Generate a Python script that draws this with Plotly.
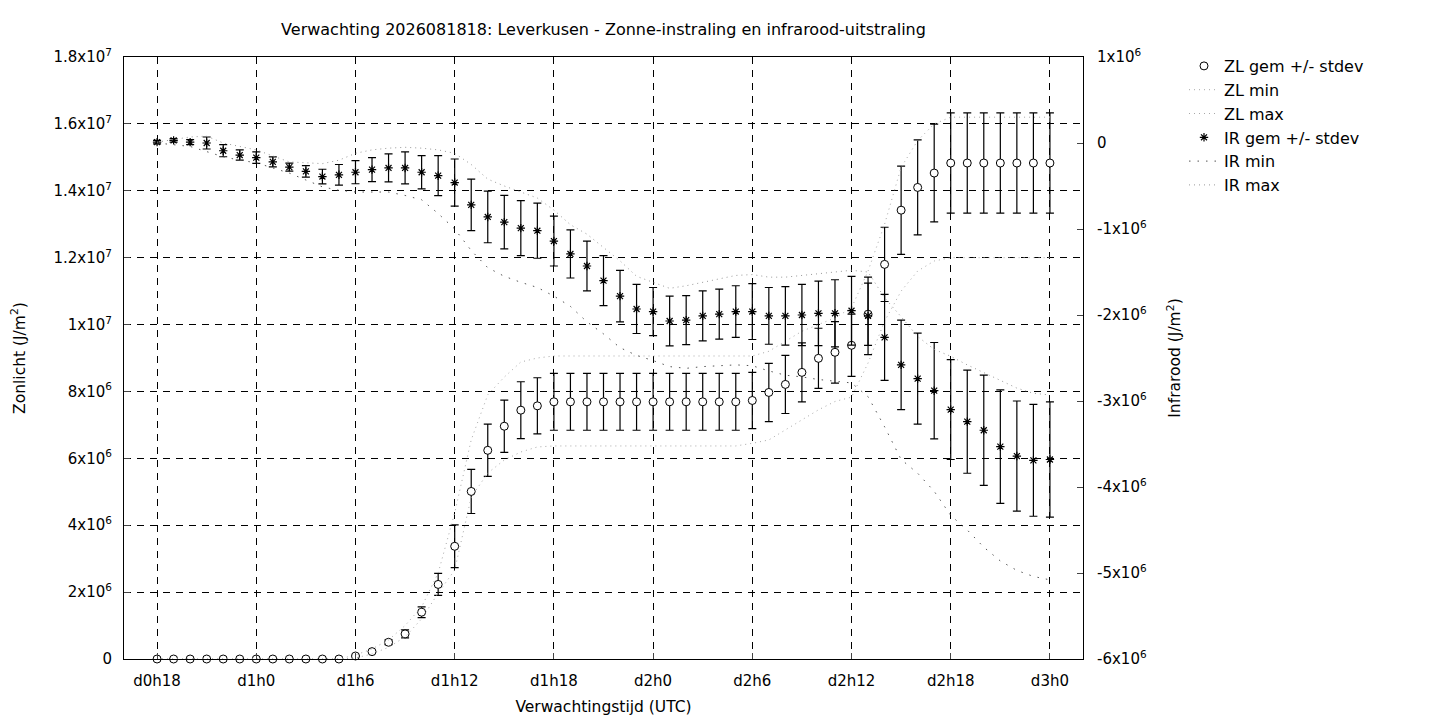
import plotly.graph_objects as go

# uren sinds d0h0 (elk uur een punt)
uren = list(range(18, 73))
labels = ["d%dh%d" % (u // 24, u % 24) for u in uren]
x_ticks = [18, 24, 30, 36, 42, 48, 54, 60, 66, 72]

# zonlicht (1e6 J/m2)
zl_gem = [0, 0, 0, 0, 0, 0, 0, 0, 0, 0, 0, 0,
          0.09, 0.22, 0.5, 0.75, 1.4, 2.23, 3.37, 5.01, 6.24, 6.96, 7.44, 7.57,
          7.69, 7.69, 7.69, 7.69, 7.69, 7.69, 7.69, 7.69, 7.69, 7.69, 7.69, 7.69,
          7.73, 7.97, 8.21, 8.57, 8.99, 9.17, 9.38, 10.31, 11.8, 13.42, 14.1, 14.53,
          14.83, 14.83, 14.83, 14.83, 14.83, 14.83, 14.83]
zl_sd = [0, 0, 0, 0, 0, 0, 0, 0, 0, 0, 0, 0,
         0.02, 0.04, 0.07, 0.12, 0.16, 0.33, 0.64, 0.66, 0.78, 0.78, 0.85, 0.84,
         0.85, 0.85, 0.85, 0.85, 0.85, 0.85, 0.85, 0.85, 0.85, 0.85, 0.85, 0.85,
         0.84, 0.87, 0.87, 0.88, 0.9, 0.92, 0.93, 0.93, 1.11, 1.32, 1.42, 1.46,
         1.5, 1.5, 1.5, 1.5, 1.5, 1.5, 1.5]
zl_min = [0, 0, 0, 0, 0, 0, 0, 0, 0, 0, 0, 0,
          0.03, 0.15, 0.35, 0.66, 1.2, 1.97, 2.66, 4.84, 5.56, 5.95, 6.19, 6.34,
          6.37, 6.37, 6.37, 6.37, 6.37, 6.37, 6.37, 6.37, 6.37, 6.37, 6.37, 6.37,
          6.45, 6.55, 6.85, 7.15, 7.45, 7.7, 7.83, 8.85, 10.1, 11.0, 11.6, 11.9,
          12.0, 12.0, 12.0, 12.0, 12.0, 12.0, 12.0]
zl_max = [0, 0, 0, 0, 0, 0, 0, 0, 0, 0, 0, 0,
          0.12, 0.3, 0.57, 1.0, 1.56, 2.57, 4.37, 6.55, 7.9, 8.43, 8.88, 9.0,
          9.06, 9.06, 9.06, 9.06, 9.06, 9.06, 9.06, 9.06, 9.06, 9.06, 9.06, 9.06,
          9.06, 9.2, 9.5, 9.8, 10.0, 10.2, 10.5, 11.6, 13.0, 14.7, 15.5, 16.0,
          16.2, 16.2, 16.2, 16.2, 16.2, 16.2, 16.2]

# infrarood (1e6 J/m2)
ir_gem = [0.01, 0.03, 0.01, 0.0, -0.09, -0.14, -0.17, -0.22, -0.28, -0.33, -0.39, -0.37,
          -0.34, -0.31, -0.29, -0.29, -0.34, -0.38, -0.46, -0.72, -0.86, -0.92, -0.99, -1.02,
          -1.14, -1.29, -1.43, -1.60, -1.78, -1.93, -1.96, -2.07, -2.06, -2.01, -1.99, -1.96,
          -1.96, -2.01, -2.01, -2.00, -1.98, -1.98, -1.95, -2.01, -2.26, -2.58, -2.74, -2.88,
          -3.10, -3.24, -3.34, -3.53, -3.64, -3.69, -3.68]
ir_sd = [0.02, 0.02, 0.03, 0.07, 0.07, 0.06, 0.066, 0.058, 0.047, 0.066, 0.085, 0.12,
         0.134, 0.14, 0.163, 0.186, 0.194, 0.233, 0.274, 0.30, 0.30, 0.31, 0.32, 0.32,
         0.29, 0.28, 0.29, 0.29, 0.30, 0.285, 0.28, 0.29, 0.285, 0.29, 0.29, 0.30,
         0.325, 0.33, 0.34, 0.355, 0.375, 0.39, 0.40, 0.45, 0.50, 0.52, 0.53, 0.56,
         0.58, 0.60, 0.64, 0.66, 0.64, 0.65, 0.67]
ir_min = [0.0, -0.02, -0.04, -0.10, -0.16, -0.20, -0.23, -0.29, -0.35, -0.43, -0.51, -0.55,
          -0.57, -0.57, -0.57, -0.61, -0.66, -0.82, -1.00, -1.25, -1.45, -1.55, -1.62, -1.68,
          -1.78, -1.90, -2.08, -2.22, -2.38, -2.47, -2.53, -2.60, -2.62, -2.60, -2.59, -2.58,
          -2.59, -2.65, -2.70, -2.72, -2.75, -2.77, -2.79, -2.95, -3.30, -3.68, -3.84, -4.05,
          -4.33, -4.50, -4.70, -4.86, -4.97, -5.04, -5.08]
ir_max = [0.01, 0.04, 0.07, 0.08, 0.0, -0.04, -0.08, -0.15, -0.22, -0.23, -0.24, -0.20,
          -0.12, -0.08, -0.06, -0.05, -0.06, -0.08, -0.12, -0.25, -0.42, -0.50, -0.57, -0.64,
          -0.78, -0.95, -1.06, -1.22, -1.37, -1.55, -1.62, -1.69, -1.66, -1.62, -1.58, -1.54,
          -1.53, -1.56, -1.56, -1.54, -1.52, -1.50, -1.48, -1.50, -1.80, -2.02, -2.25, -2.40,
          -2.48, -2.58, -2.67, -2.76, -2.85, -2.91, -2.93]

y1_ticks = [0, 2e6, 4e6, 6e6, 8e6, 1e7, 1.2e7, 1.4e7, 1.6e7, 1.8e7]
y1_text = ["0", "2x10<sup>6</sup>", "4x10<sup>6</sup>", "6x10<sup>6</sup>", "8x10<sup>6</sup>",
           "1x10<sup>7</sup>", "1.2x10<sup>7</sup>", "1.4x10<sup>7</sup>", "1.6x10<sup>7</sup>",
           "1.8x10<sup>7</sup>"]
y2_ticks = [-6e6, -5e6, -4e6, -3e6, -2e6, -1e6, 0, 1e6]
y2_text = ["-6x10<sup>6</sup>", "-5x10<sup>6</sup>", "-4x10<sup>6</sup>", "-3x10<sup>6</sup>",
           "-2x10<sup>6</sup>", "-1x10<sup>6</sup>", "0", "1x10<sup>6</sup>"]

M = 1e6
font = "DejaVu Sans"

fig = go.Figure()
fig.add_trace(go.Scatter(
    x=uren, y=[v * M for v in zl_gem], mode="markers", name="ZL gem +/- stdev",
    marker=dict(symbol="circle", size=8, color="white", line=dict(color="black", width=1)),
    error_y=dict(type="data", array=[v * M for v in zl_sd], color="black", thickness=1.2, width=4),
    cliponaxis=False))
fig.add_trace(go.Scatter(x=uren, y=[v * M for v in zl_min], mode="lines", name="ZL min",
                         line=dict(color="#a8a8a8", width=1, dash="1px,4px")))
fig.add_trace(go.Scatter(x=uren, y=[v * M for v in zl_max], mode="lines", name="ZL max",
                         line=dict(color="#a8a8a8", width=1, dash="1px,4px")))
fig.add_trace(go.Scatter(
    x=uren, y=[v * M for v in ir_gem], mode="markers", name="IR gem +/- stdev", yaxis="y2",
    marker=dict(symbol="asterisk-open", size=7, color="black", line=dict(color="black", width=1.2)),
    error_y=dict(type="data", array=[v * M for v in ir_sd], color="black", thickness=1.2, width=4)))
fig.add_trace(go.Scatter(x=uren, y=[v * M for v in ir_min], mode="lines", name="IR min", yaxis="y2",
                         line=dict(color="#555555", width=1, dash="1.5px,7px")))
fig.add_trace(go.Scatter(x=uren, y=[v * M for v in ir_max], mode="lines", name="IR max", yaxis="y2",
                         line=dict(color="#999999", width=1, dash="1px,4px")))

# de pagina heeft 8px marge, dus figuur iets kleiner
fig.update_layout(
    width=1432, height=712,
    margin=dict(l=116, r=357, t=49, b=61, autoexpand=False),
    paper_bgcolor="white", plot_bgcolor="white",
    font=dict(family=font, size=15, color="black"),
    title=dict(text="Verwachting 2026081818: Leverkusen - Zonne-instraling en infrarood-uitstraling",
               x=595.5 / 1432, xanchor="center", y=1 - 21 / 712, yanchor="middle",
               font=dict(size=16)),
    xaxis=dict(range=[16, 74], tickvals=x_ticks, ticktext=[labels[uren.index(t)] for t in x_ticks],
               showgrid=True, gridcolor="black", griddash="7px,6px", gridwidth=1,
               showline=True, linecolor="black", mirror=True, ticks="inside", ticklen=6,
               tickfont=dict(size=15), ticklabelstandoff=8, zeroline=False,
               title=dict(text="Verwachtingstijd (UTC)", standoff=12, font=dict(size=15.5))),
    yaxis=dict(range=[0, 1.8e7], tickvals=y1_ticks, ticktext=y1_text,
               showgrid=True, gridcolor="black", griddash="7px,6px", gridwidth=1,
               showline=True, linecolor="black", mirror=True, ticks="inside", ticklen=6,
               tickfont=dict(size=15), ticklabelstandoff=8, zeroline=False,
               title=dict(text="Zonlicht (J/m<sup>2</sup>)", standoff=26, font=dict(size=15.5))),
    yaxis2=dict(range=[-6e6, 1e6], tickvals=y2_ticks, ticktext=y2_text, overlaying="y", side="right",
                showgrid=False, showline=True, linecolor="black", ticks="inside", ticklen=6,
                tickfont=dict(size=15), ticklabelstandoff=10, zeroline=False,
                title=dict(text="Infrarood (J/m<sup>2</sup>)", standoff=23, font=dict(size=15.5))),
    legend=dict(x=(1176 - 116) / 959, xanchor="left", y=1 + 8 / 602, yanchor="top",
                bgcolor="rgba(0,0,0,0)", font=dict(size=16), tracegroupgap=0),
    showlegend=True,
)

fig.write_html("out.html")
